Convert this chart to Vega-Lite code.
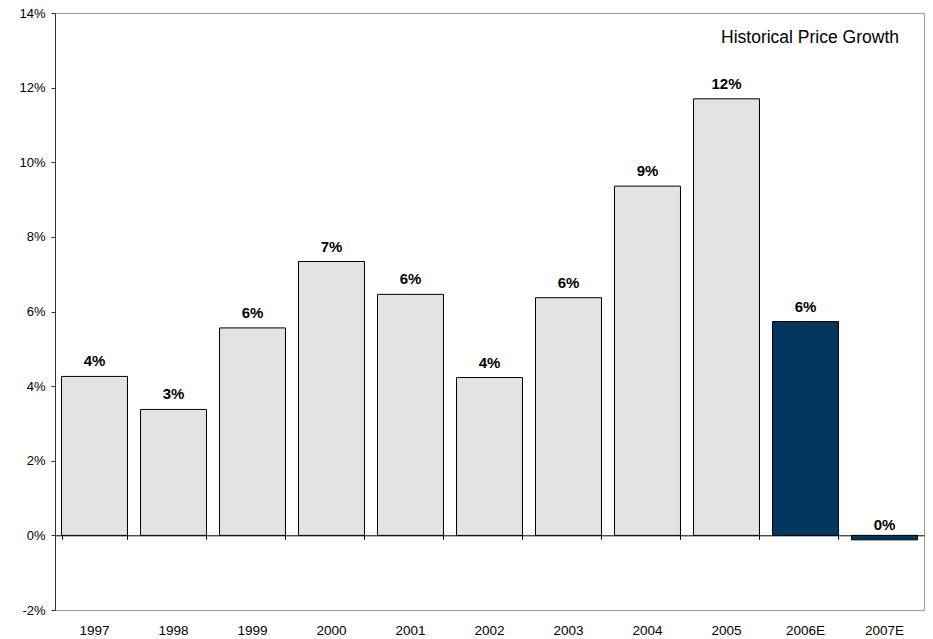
{
  "$schema": "https://vega.github.io/schema/vega-lite/v6.json",
  "autosize": "none",
  "padding": {"left": 55, "top": 13, "right": 9, "bottom": 29},
  "width": 869,
  "height": 597,
  "background": "white",
  "config": {
    "font": "Liberation Sans",
    "view": {"stroke": "#9a9a9a", "strokeWidth": 1}
  },
  "title": {
    "text": "Historical Price Growth",
    "orient": "top",
    "anchor": "end",
    "frame": "group",
    "offset": 0,
    "baseline": "alphabetic",
    "dy": 53,
    "dx": -25,
    "fontSize": 17.5,
    "fontWeight": "normal",
    "font": "Liberation Sans",
    "color": "#000000"
  },
  "data": {
    "values": [
      {"year": "1997", "growth": 0.0426, "kind": "actual"},
      {"year": "1998", "growth": 0.03375, "kind": "actual"},
      {"year": "1999", "growth": 0.0556, "kind": "actual"},
      {"year": "2000", "growth": 0.0734, "kind": "actual"},
      {"year": "2001", "growth": 0.0646, "kind": "actual"},
      {"year": "2002", "growth": 0.0423, "kind": "actual"},
      {"year": "2003", "growth": 0.0637, "kind": "actual"},
      {"year": "2004", "growth": 0.0936, "kind": "actual"},
      {"year": "2005", "growth": 0.117, "kind": "actual"},
      {"year": "2006E", "growth": 0.0573, "kind": "estimate"},
      {"year": "2007E", "growth": -0.0012, "kind": "estimate"}
    ]
  },
  "encoding": {
    "x": {
      "field": "year",
      "type": "nominal",
      "sort": null,
      "scale": {"paddingInner": 0.165, "paddingOuter": 0.0825}
    },
    "y": {
      "field": "growth",
      "type": "quantitative",
      "scale": {"domain": [-0.02, 0.14], "nice": false, "zero": false},
      "axis": {
        "title": null,
        "values": [-0.02, 0, 0.02, 0.04, 0.06, 0.08, 0.1, 0.12, 0.14],
        "format": ".0%",
        "labelExpr": "replace(datum.label, '\u2212', '-')",
        "grid": false,
        "domainColor": "#333333",
        "tickColor": "#333333",
        "tickSize": 4,
        "labelFontSize": 13,
        "labelColor": "#000000",
        "labelPadding": 6
      }
    }
  },
  "layer": [
    {
      "mark": {"type": "bar", "stroke": "#000000", "strokeWidth": 1},
      "encoding": {
        "x": {
          "field": "year",
          "type": "nominal",
          "sort": null,
          "axis": {
            "title": null,
            "orient": "bottom",
            "labelAngle": 0,
            "ticks": false,
            "domain": false,
            "labelFontSize": 13.5,
            "labelColor": "#000000",
            "labelPadding": 13
          }
        },
        "color": {
          "field": "kind",
          "type": "nominal",
          "scale": {"domain": ["actual", "estimate"], "range": ["#e3e3e3", "#03375f"]},
          "legend": null
        }
      }
    },
    {
      "mark": {
        "type": "text",
        "baseline": "alphabetic",
        "dy": -10,
        "fontSize": 15,
        "fontWeight": "bold",
        "color": "#000000"
      },
      "encoding": {
        "x": {
          "field": "year",
          "type": "nominal",
          "sort": null,
          "axis": {
            "title": null,
            "orient": "bottom",
            "offset": -74.7,
            "labels": false,
            "tickBand": "extent",
            "tickSize": 4,
            "tickColor": "#000000",
            "domainColor": "#000000",
            "domainWidth": 1
          }
        },
        "text": {"field": "growth", "type": "quantitative", "format": ".0%"}
      }
    }
  ],
  "resolve": {"axis": {"x": "independent"}}
}
